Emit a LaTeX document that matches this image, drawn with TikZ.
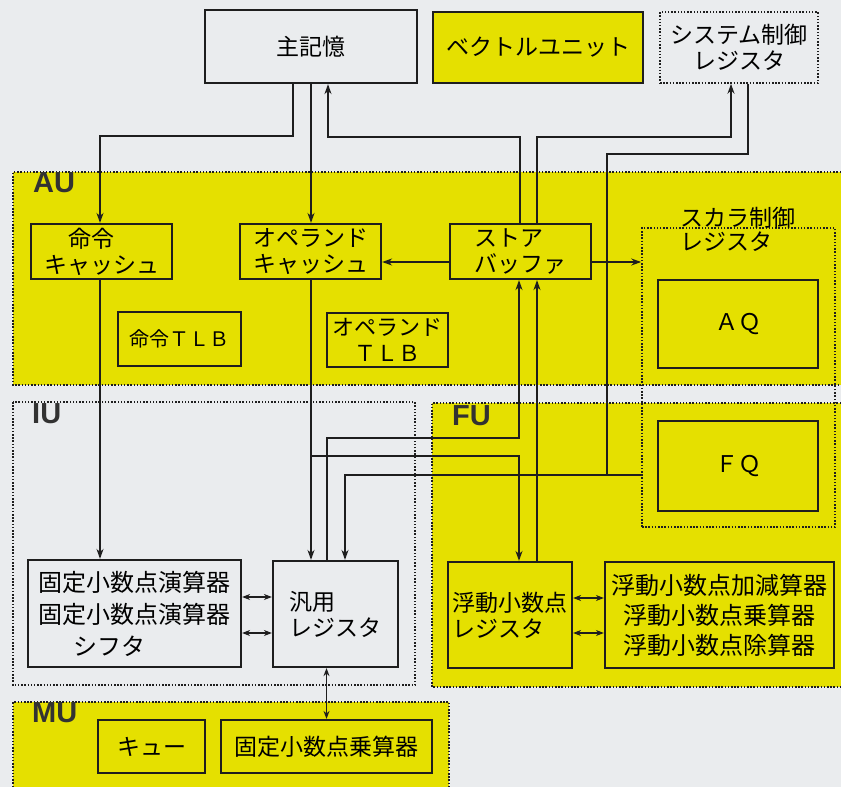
\documentclass[tikz,border=0pt]{standalone}
\usepackage{fontspec}
\newfontfamily\jp{Noto Sans CJK JP}
\newfontfamily\labfont{Liberation Sans}
\usetikzlibrary{arrows.meta,calc}
\definecolor{bg}{RGB}{234,236,238}
\definecolor{ylw}{RGB}{229,224,0}
\definecolor{ink}{RGB}{30,30,30}
\definecolor{labc}{RGB}{50,50,50}
\begin{document}
\begin{tikzpicture}[x=1pt,y=-1pt,
  box/.style={draw=ink,line width=2.2pt,inner sep=0pt,font=\jp\fontsize{23}{26}\selectfont,align=center},
  ybox/.style={box,fill=ylw},
  wbox/.style={box,fill=bg},
  dbox/.style={box,dash pattern=on 1.5pt off 1.7pt,line width=1.6pt},
  conn/.style={draw=ink,line width=1.9pt},
  arr/.style={conn,-{Stealth[length=10pt,width=7pt]}},
  darr/.style={conn,{Stealth[length=8pt,width=6pt]}-{Stealth[length=8pt,width=6pt]}},
  region/.style={draw=ink,line width=1.7pt,dash pattern=on 1.5pt off 1.7pt},
  rlabel/.style={font=\labfont\bfseries\fontsize{29}{29}\selectfont,text=labc,inner sep=0pt,anchor=north west}
]
\useasboundingbox (0,0) rectangle (841,787);
\fill[bg] (0,0) rectangle (841,787);
% regions
\fill[ylw] (13,172) rectangle (841,385);
\draw[region] (841,172) -- (13,172) -- (13,385) -- (841,385);
\draw[region] (13,402) rectangle (415,685);
\fill[ylw] (432,403) rectangle (841,687);
\draw[region] (841,403) -- (432,403) -- (432,687) -- (841,687);
\fill[ylw] (13,702) rectangle (449,787);
\draw[region] (13,787) -- (13,702) -- (449,702) -- (449,787);
\node[rlabel] (aulab) at (33,172) {AU};
\node[rlabel] (iulab) at (32,403) {IU};
\node[rlabel] (fulab) at (452,405) {FU};
\node[rlabel] (mulab) at (32,702) {MU};
% boxes
\node[wbox,minimum width=212pt,minimum height=73pt] (mem) at (311,46.5) {主記憶};
\node[ybox,minimum width=210pt,minimum height=71pt] (vec) at (538,47.5) {ベクトルユニット};
\node[dbox,minimum width=158pt,minimum height=71pt] (sys) at (739,47.5) {システム制御\\レジスタ};
\node[ybox,minimum width=141pt,minimum height=55pt] (icache) at (101.5,251.5) {命令\hspace*{20pt}\\キャッシュ};
\node[ybox,minimum width=141pt,minimum height=55pt] (ocache) at (310.5,251.5) {オペランド\\キャッシュ};
\node[ybox,minimum width=141pt,minimum height=55pt,align=left] (sbuf) at (520.5,251.5) {ストア\\バッファ};
\node[ybox,minimum width=123pt,minimum height=54pt,font=\jp\fontsize{20}{24}\selectfont] (itlb) at (179.5,339) {命令ＴＬＢ};
\node[ybox,minimum width=121pt,minimum height=54pt,font=\jp\fontsize{22}{26}\selectfont] (otlb) at (387.5,340) {オペランド\\ＴＬＢ};
\node[dbox,minimum width=193pt,minimum height=299pt] (scal) at (738.5,377.5) {};
\node[font=\jp\fontsize{23}{24}\selectfont,align=left,inner sep=0pt] (scallab) at (738,229) {スカラ制御\\レジスタ};
\node[ybox,minimum width=160pt,minimum height=88pt] (aq) at (738,324) {ＡＱ};
\node[ybox,minimum width=160pt,minimum height=90pt] (fq) at (738,466) {ＦＱ};
\node[wbox,minimum width=213pt,minimum height=107pt,font=\jp\fontsize{24}{32}\selectfont] (fixed) at (134.5,613.5) {固定小数点演算器\\固定小数点演算器\\シフタ\hspace*{50pt}};
\node[wbox,minimum width=125pt,minimum height=106pt,align=left] (greg) at (335.5,614) {汎用\\レジスタ};
\node[ybox,minimum width=124pt,minimum height=106pt,align=left] (fpreg) at (510,615) {浮動小数点\\レジスタ};
\node[ybox,minimum width=229pt,minimum height=106pt,font=\jp\fontsize{24}{30}\selectfont] (fpu) at (719.5,615) {浮動小数点加減算器\\浮動小数点乗算器\\浮動小数点除算器};
\node[ybox,minimum width=107pt,minimum height=53pt] (queue) at (151.5,746.5) {キュー};
\node[ybox,minimum width=211pt,minimum height=53pt] (mulfix) at (326.5,746.5) {固定小数点乗算器};
% connectors
\draw[arr] ([xshift=-18pt]mem.south) |- (100,136) -- ([xshift=-1.5pt]icache.north);
\draw[arr] (mem.south) -- (mem.south |- ocache.north);
\draw[arr] ([xshift=-0.5pt]sbuf.north) |- (328,137) -- ([xshift=17pt]mem.south);
\draw[arr] ([xshift=16.5pt]sbuf.north) |- (731,137) -- ([xshift=-8pt]sys.south);
\draw[arr] ([xshift=9pt]sys.south) |- (607,154) |- (345,475) -- ([xshift=9.5pt]greg.north);
\draw[conn] (scal.west |- 0,475) -- (607,475);
\draw[arr] ([xshift=0.5pt]ocache.south) -- ([xshift=-24.5pt]greg.north);
\draw[arr] (311,456) -| ([xshift=9pt]fpreg.north);
\draw[arr] ([xshift=-8.5pt]greg.north) |- (519,438) -- ([xshift=-1.5pt]sbuf.south);
\draw[arr] ([xshift=27pt]fpreg.north) -- ([xshift=16.5pt]sbuf.south);
\draw[arr] ([yshift=-10.5pt]sbuf.west) -- ([yshift=-10.5pt]ocache.east);
\draw[arr] ([yshift=-10.5pt]sbuf.east) -- (scal.west |- 0,262);
\draw[arr] ([xshift=-1.5pt]icache.south) -- ([xshift=-34.5pt]fixed.north);
\draw[darr] (fixed.east |- 0,597) -- (greg.west |- 0,597);
\draw[darr] (fixed.east |- 0,633) -- (greg.west |- 0,633);
\draw[darr] (greg.south -| mulfix.north) -- (mulfix.north);
\draw[darr] (fpreg.east |- 0,598) -- (fpu.west |- 0,598);
\draw[darr] (fpreg.east |- 0,633) -- (fpu.west |- 0,633);
\end{tikzpicture}
\end{document}
